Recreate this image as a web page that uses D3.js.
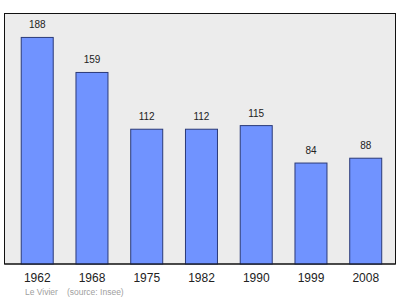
<!DOCTYPE html>
<html><head><meta charset="utf-8">
<script src="https://cdn.jsdelivr.net/npm/d3@7"></script>
<style>html,body{margin:0;padding:0;background:#fff;}svg{display:block;}</style>
</head><body>
<script>
const years = ["1962","1968","1975","1982","1990","1999","2008"];
const population = [188,159,112,112,115,84,88];
const place = "Le Vivier";
const source = "(source: Insee)";

const W = 400, H = 299;
const FONT = "Liberation Sans, Arial, sans-serif";
const frame = {left: 4.5, top: 13.5, right: 395.5, bottom: 264};
const svg = d3.select("body").append("svg").attr("width", W).attr("height", H);

svg.append("rect")
  .attr("x", frame.left).attr("y", frame.top)
  .attr("width", frame.right - frame.left).attr("height", frame.bottom - frame.top)
  .attr("fill", "#ececec").attr("stroke", "#111").attr("stroke-width", 1);

const x = d3.scaleBand().domain(years).range([9.35, 392.6]).padding(0);
const y = d3.scaleLinear().domain([0, 207.4]).range([frame.bottom, frame.top]);
const bw = 32;

const g = svg.append("g");
g.selectAll("rect.bar").data(population).join("rect")
  .attr("class", "bar")
  .attr("x", (d, i) => x(years[i]) + x.bandwidth() / 2 - bw / 2 + 0.5)
  .attr("y", d => y(d) + 0.5)
  .attr("width", bw)
  .attr("height", d => frame.bottom - y(d) - 0.5)
  .attr("fill", "#7093ff")
  .attr("stroke", "#2b3a78").attr("stroke-width", 1);

g.selectAll("text.val").data(population).join("text")
  .attr("class", "val")
  .attr("x", (d, i) => x(years[i]) + x.bandwidth() / 2 + 0.5)
  .attr("y", d => y(d) - 8.5)
  .attr("text-anchor", "middle")
  .attr("font-family", FONT)
  .attr("font-size", 10)
  .attr("fill", "#222")
  .text(d => d);

svg.append("line").attr("x1", frame.left).attr("x2", frame.right)
  .attr("y1", frame.bottom).attr("y2", frame.bottom).attr("stroke", "#111");

const xAxis = d3.axisBottom(x).tickSize(0).tickPadding(0);
const ax = svg.append("g").attr("transform", `translate(0.5,${frame.bottom})`).call(xAxis);
ax.select(".domain").remove();
ax.selectAll("text")
  .attr("y", 17.5).attr("dy", 0)
  .attr("font-family", FONT)
  .attr("font-size", 12).attr("fill", "#222");

svg.append("text").attr("x", 25).attr("y", 295)
  .attr("font-family", FONT).attr("font-size", 8.5)
  .attr("fill", "#a0a0a0").text(place);
svg.append("text").attr("x", 67).attr("y", 295)
  .attr("font-family", FONT).attr("font-size", 8.5)
  .attr("fill", "#a0a0a0").text(source);
</script>
</body></html>
